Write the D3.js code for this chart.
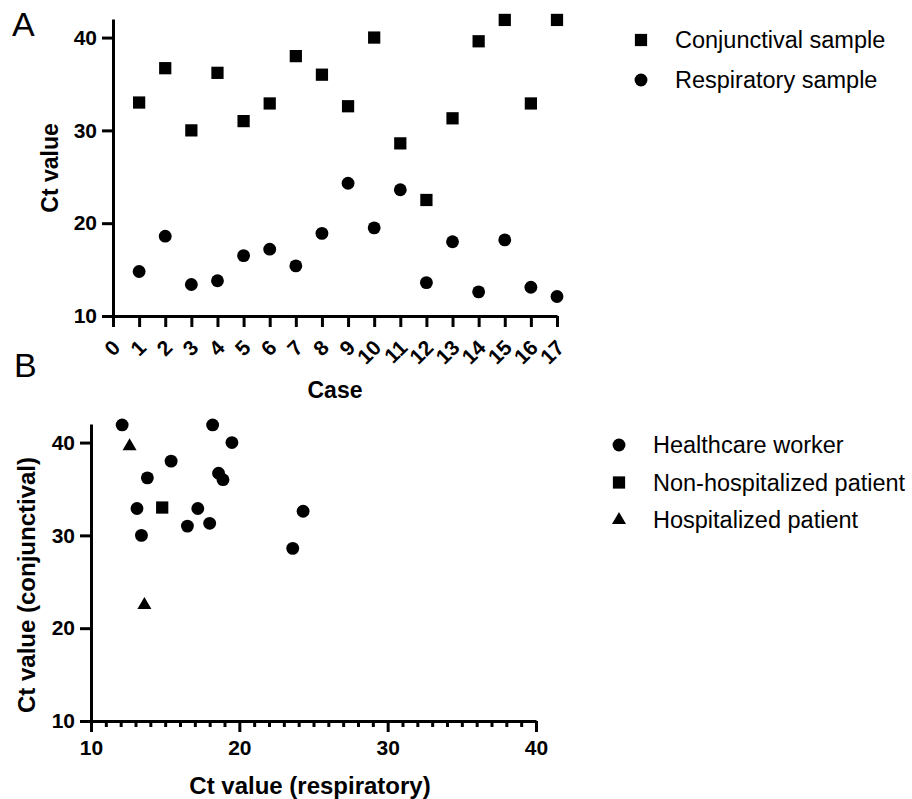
<!DOCTYPE html>
<html><head><meta charset="utf-8">
<script src="https://cdn.jsdelivr.net/npm/d3@7"></script>
<style>
html,body{margin:0;padding:0;background:#fff;}
svg text{font-family:"Liberation Sans",Arial,sans-serif;fill:#000;}
</style></head>
<body>
<svg id="chart" width="912" height="799"></svg>
<script>
// ---- data ----
const cases = [1,2,3,4,5,6,7,8,9,10,11,12,13,14,15,16,17];
const conjunctival = [33.0,36.7,30.0,36.2,31.0,32.9,38.0,36.0,32.6,40.0,28.6,22.5,31.3,39.6,41.9,32.9,41.9];
const respiratory = [14.8,18.6,13.4,13.8,16.5,17.2,15.4,18.9,24.3,19.5,23.6,13.6,18.0,12.6,18.2,13.1,12.1];
const groups = ["Non-hospitalized patient","Healthcare worker","Healthcare worker","Healthcare worker","Healthcare worker","Healthcare worker","Healthcare worker","Healthcare worker","Healthcare worker","Healthcare worker","Healthcare worker","Hospitalized patient","Healthcare worker","Hospitalized patient","Healthcare worker","Healthcare worker","Healthcare worker"];
const caseTicks = [0,1,2,3,4,5,6,7,8,9,10,11,12,13,14,15,16,17];
const ctTicks = [10,20,30,40];
const seriesA = ["Conjunctival sample","Respiratory sample"];
const groupNames = ["Healthcare worker","Non-hospitalized patient","Hospitalized patient"];

const svg = d3.select("#chart");
const sym = {
  square: d3.symbol().type(d3.symbolSquare).size(150),
  circle: d3.symbol().type(d3.symbolCircle).size(130),
  triangle: d3.symbol().type(d3.symbolTriangle).size(85)
};
const groupSym = {"Healthcare worker":"circle","Non-hospitalized patient":"square","Hospitalized patient":"triangle"};

function styleAxis(g){
  g.selectAll(".domain").attr("stroke","#000").attr("stroke-width",3);
  g.selectAll(".tick line").attr("stroke","#000").attr("stroke-width",3);
  g.selectAll(".tick text").attr("font-size",21).attr("font-weight","bold").attr("fill","#000");
}

// ---- Panel A ----
const xA = d3.scaleLinear().domain([0,17]).range([113,557]);
const yA = d3.scaleLinear().domain([10,42]).range([316,19]);

const gxA = svg.append("g").attr("transform","translate(0,316)")
  .call(d3.axisBottom(xA).tickValues(caseTicks).tickFormat(d3.format("d")).tickSize(11).tickSizeOuter(0));
styleAxis(gxA);
gxA.selectAll(".tick text")
  .attr("text-anchor","end").attr("dy",null).attr("y",null)
  .attr("transform","translate(4,29) rotate(-45)")
  .attr("dominant-baseline","middle");

const gyA = svg.append("g").attr("transform","translate(113,0)")
  .call(d3.axisLeft(yA).tickValues(ctTicks).tickSize(11).tickSizeOuter(0).tickPadding(5));
styleAxis(gyA);

svg.append("g").selectAll("path.conj").data(cases).join("path")
  .attr("d",sym.square).attr("fill","#000")
  .attr("transform",(d,i)=>`translate(${xA(d)},${yA(conjunctival[i])})`);
svg.append("g").selectAll("path.resp").data(cases).join("path")
  .attr("d",sym.circle).attr("fill","#000")
  .attr("transform",(d,i)=>`translate(${xA(d)},${yA(respiratory[i])})`);

svg.append("text").attr("x",335).attr("y",398).attr("text-anchor","middle")
  .attr("font-size",23).attr("font-weight","bold").text("Case");
svg.append("text").attr("transform","translate(58,168) rotate(-90)").attr("text-anchor","middle")
  .attr("font-size",23).attr("font-weight","bold").text("Ct value");
svg.append("text").attr("x",12).attr("y",36).attr("font-size",34).text("A");

// legend A
const legA = svg.append("g");
seriesA.forEach((s,i)=>{
  const y = 40 + i*40;
  legA.append("path").attr("d", i===0?sym.square:sym.circle).attr("fill","#000")
    .attr("transform",`translate(641,${y})`);
  legA.append("text").attr("x",675).attr("y",y).attr("dominant-baseline","central")
    .attr("font-size",23.5).text(s);
});

// ---- Panel B ----
const xB = d3.scaleLinear().domain([10,40]).range([91,536]);
const yB = d3.scaleLinear().domain([10,42]).range([721,424]);

const minor = d3.range(10,41,1).filter(v=>v%10!==0);
const gxBminor = svg.append("g").attr("transform","translate(0,721)")
  .call(d3.axisBottom(xB).tickValues(minor).tickSize(6).tickFormat(""));
gxBminor.select(".domain").remove();
gxBminor.selectAll(".tick line").attr("stroke","#000").attr("stroke-width",3);

const gxB = svg.append("g").attr("transform","translate(0,721)")
  .call(d3.axisBottom(xB).tickValues(ctTicks).tickSize(11).tickSizeOuter(0).tickPadding(8));
styleAxis(gxB);

const gyB = svg.append("g").attr("transform","translate(91,0)")
  .call(d3.axisLeft(yB).tickValues(ctTicks).tickSize(11).tickSizeOuter(0).tickPadding(5));
styleAxis(gyB);

svg.append("g").selectAll("path.pt").data(cases).join("path")
  .attr("d",(d,i)=>sym[groupSym[groups[i]]]()).attr("fill","#000")
  .attr("transform",(d,i)=>`translate(${xB(respiratory[i])},${yB(conjunctival[i])})`);

svg.append("text").attr("x",310).attr("y",794).attr("text-anchor","middle")
  .attr("font-size",24).attr("font-weight","bold").text("Ct value (respiratory)");
svg.append("text").attr("transform","translate(35,585) rotate(-90)").attr("text-anchor","middle")
  .attr("font-size",24).attr("font-weight","bold").text("Ct value (conjunctival)");
svg.append("text").attr("x",14).attr("y",377).attr("font-size",34).text("B");

const legB = svg.append("g");
groupNames.forEach((s,i)=>{
  const y = 445 + i*37.5;
  legB.append("path").attr("d", sym[groupSym[s]]()).attr("fill","#000")
    .attr("transform",`translate(619,${y})`);
  legB.append("text").attr("x",653).attr("y",y).attr("dominant-baseline","central")
    .attr("font-size",23.5).text(s);
});
</script>
</body></html>
